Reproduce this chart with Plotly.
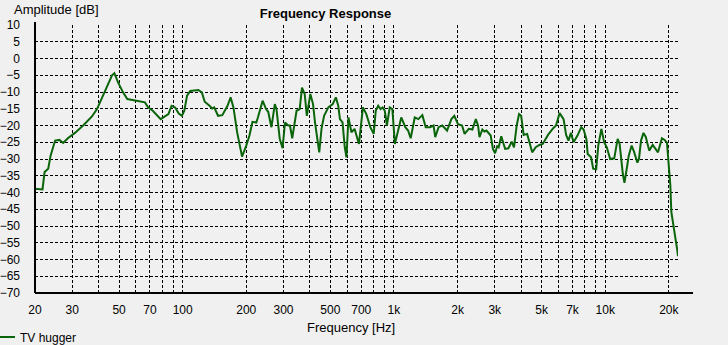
import math
import plotly.graph_objects as go

# ---- data ----
freq_hz = [20, 21.7, 22.2, 23.1, 23.7, 24.9, 26.1, 27.2, 28.6, 30.9, 33.8, 37.2, 39.3, 41.3, 43.7, 46.3, 47.5,
           49.5, 52.2, 54.7, 60.5, 66.3, 68.6, 72.2, 78.7, 85.6, 88.6, 92.1, 95.8, 99.2, 101.8, 104.9, 108.6,
           118.6, 123.2, 127.2, 134, 138, 141, 147, 154, 163, 168.6, 173.9, 181, 191, 200, 207, 214, 223, 227,
           239, 248, 254, 263, 273, 278, 288, 297, 305, 316, 322, 330, 346, 358, 367, 378, 387, 402, 414, 423,
           433, 443, 454, 467, 489, 513, 531, 545, 555, 571, 585, 596, 609, 629, 651, 668, 683, 713, 740, 773,
           802, 820, 842, 864, 884, 905, 926, 955, 983, 1010, 1034, 1083, 1132, 1166, 1200, 1254, 1304, 1363,
           1414, 1482, 1540, 1568, 1626, 1694, 1784, 1870, 1930, 2010, 2100, 2160, 2260, 2350, 2440, 2500,
           2540, 2620, 2680, 2740, 2870, 2940, 3010, 3080, 3130, 3220, 3360, 3480, 3610, 3700, 3810, 3910,
           4000, 4110, 4270, 4380, 4510, 4690, 4880, 5060, 5360, 5670, 5850, 6080, 6350, 6530, 6700, 6880,
           7080, 7390, 7700, 7900, 8140, 8260, 8570, 8770, 9060, 9270, 9590, 9880, 10170, 10550, 11030,
           11450, 11700, 12110, 12330, 12640, 12920, 13330, 13680, 14200, 14450, 14770, 15170, 15570, 16150,
           16770, 17250, 17770, 18550, 19110, 19600, 19970, 20330, 20550, 21090, 21490, 21930, 22050, 22100]

amplitude_db = [-38.9, -39.1, -33.9, -32.9, -29, -24.5, -24.3, -25.2, -23.8, -22.2, -20, -17.3, -15.1, -12.1,
                -8.2, -5, -4.4, -7.2, -10.1, -12.1, -12.6, -13.1, -14.6, -15.6, -18.1, -16.6, -14.1, -14.6,
                -16.4, -17.1, -15.6, -11.1, -9.7, -9.4, -10.1, -12.9, -14.1, -14.9, -14.6, -17.1, -16.9, -14.1,
                -11.6, -14.6, -22, -29.3, -26, -23, -18.9, -19.1, -17.6, -12.6, -15.1, -15.9, -20.5, -13.6,
                -15.1, -24, -26.8, -19.1, -20, -20, -23.8, -15.6, -15.1, -8.7, -10.6, -17.1, -10.6, -13.6,
                -19.1, -23, -28, -21, -17.1, -14.6, -13.6, -11.6, -14.1, -18.1, -19.1, -26.5, -29.5, -17.6,
                -22, -21, -23.5, -25.5, -14.6, -16.6, -20.5, -22.5, -15.6, -14.1, -15.1, -14.6, -15.6, -20,
                -14.6, -15.1, -25.5, -23, -17.6, -20.5, -21.5, -23.8, -17.6, -18.1, -16.9, -20.5, -20.5, -20,
                -23.5, -20.5, -20, -21.5, -18.1, -17.1, -19.6, -20, -22.5, -21, -21.2, -18.1, -20, -23.5,
                -21.2, -21.8, -21.5, -23, -27, -28.3, -26.2, -26.5, -23.2, -27, -26.8, -24.8, -26.5, -20,
                -16.6, -17.1, -22.8, -22.5, -25, -28, -26.5, -25.8, -25.5, -22.8, -20.8, -20, -16.3, -18.1,
                -22.8, -24.5, -22.2, -25, -23, -20.5, -21.2, -24, -28.5, -29.5, -32.9, -33.1, -26, -21, -25,
                -26.5, -30, -29.8, -24, -25.5, -34.4, -37.1, -32.9, -29, -26, -27.8, -31.1, -29.9, -24.5,
                -22.2, -23.5, -27.5, -25.8, -27, -28, -23.8, -24.3, -25.2, -31.9, -37.9, -45.8, -49.8, -53.7,
                -57.2, -58.3, -59]

assert len(freq_hz) == len(amplitude_db), (len(freq_hz), len(amplitude_db))

series_name = "TV hugger"

x_grid_vals = [20, 30, 40, 50, 60, 70, 80, 90, 100, 200, 300, 400, 500, 600, 700, 800, 900,
               1000, 2000, 3000, 4000, 5000, 6000, 7000, 8000, 9000, 10000, 20000]
x_grid_text = ["20", "30", "", "50", "", "70", "", "", "100", "200", "300", "", "500", "", "700", "", "",
               "1k", "2k", "3k", "", "5k", "", "7k", "", "", "10k", "20k"]
y_tick_vals = list(range(-70, 15, 5))

x_min, x_max = 20, 22100
y_min, y_max = -70, 10

FONT = "Liberation Sans, Arial, sans-serif"
BG = "#F0F0F0"
GREEN = "#0A640A"

fig = go.Figure()
fig.add_trace(go.Scatter(x=freq_hz, y=amplitude_db, mode="lines", name=series_name,
                         line=dict(color=GREEN, width=2)))

W, H = 728, 345
# plot area in page pixels: x 35..678, y 25..293
L, R, T, B = 35, 678, 25, 293
pw, ph = R - L, B - T

fig.update_layout(
    width=W, height=H,
    margin=dict(l=L, r=W - R, t=T, b=H - B, pad=0, autoexpand=False),
    paper_bgcolor=BG, plot_bgcolor=BG,
    font=dict(family=FONT, size=12, color="black"),
    title=dict(text="<b>Frequency Response</b>", x=325.5 / W, xref="container", xanchor="center",
               y=1 - 13 / H, yref="container", yanchor="middle", font=dict(size=13, family=FONT),
               automargin=False),
    showlegend=True,
    legend=dict(x=(-5 - L) / pw, xref="paper", y=-(337 - B) / ph, yref="paper", yanchor="middle",
                xanchor="left", itemwidth=30, indentation=-15, bgcolor="rgba(0,0,0,0)",
                font=dict(size=12, family=FONT), tracegroupgap=0),
    xaxis=dict(type="log", range=[math.log10(x_min), math.log10(x_max)],
               tickmode="array", tickvals=x_grid_vals, ticktext=x_grid_text,
               showgrid=True, gridcolor="black", gridwidth=1, griddash="3px,2px",
               showline=False, zeroline=False, ticks="", ticklabelstandoff=8, automargin=False,
               tickfont=dict(size=12, family=FONT)),
    yaxis=dict(range=[y_min, y_max], tickmode="array", tickvals=y_tick_vals,
               showgrid=True, gridcolor="black", gridwidth=1, griddash="3px,2px",
               showline=False, zeroline=False, ticks="", ticklabelstandoff=14, automargin=False,
               tickfont=dict(size=12, family=FONT)),
    shapes=[
        dict(type="line", xref="paper", yref="paper", x0=0, x1=(693 - L) / pw, y0=0, y1=0,
             line=dict(color="black", width=2)),
        dict(type="line", xref="paper", yref="paper", x0=0, x1=0, y0=0, y1=1 + 3 / ph,
             line=dict(color="black", width=2)),
    ],
    annotations=[
        dict(text="Amplitude [dB]", xref="paper", yref="paper", x=(12 - L) / pw,
             y=1 + (T - 10) / ph,
             xanchor="left", yanchor="middle", showarrow=False, font=dict(size=13, family=FONT)),
        dict(text="Frequency [Hz]", xref="paper", yref="paper", x=(351 - L) / pw,
             y=-(327 - B) / ph,
             xanchor="center", yanchor="middle", showarrow=False, font=dict(size=13, family=FONT)),
    ],
)

fig.write_html("out.html", config={"displayModeBar": False},
               post_script="document.body.style.margin='0';")
